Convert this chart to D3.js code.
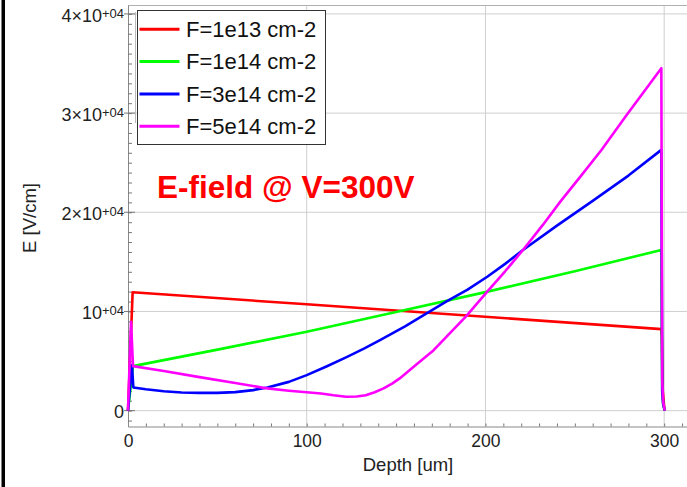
<!DOCTYPE html>
<html lang="en">
  <head>
    <meta charset="UTF-8" />
    <title>E-field @ V=300V</title>
    <style>
      body { margin: 0; background: #fff; }
      svg { font-family: "Liberation Sans", Arial, sans-serif; }
    </style>
  </head>
  <body>
    <div id="wrapper"></div>
    <script src="https://d3js.org/d3.v7.min.js"></script>
    <script>
      // [depth um, E V/cm]
      const f1e13 = [[0, 0], [2.6, 11930], [100, 10720], [298.4, 8220], [298.7, 7300], [299.2, 2000], [300.2, 0]];
      const f1e14 = [[0, 0], [2.8, 4490], [51.5, 6200], [100, 7950], [150, 9950], [200, 11950], [250, 14050],
        [298.4, 16200], [298.9, 2000], [299.4, 700], [300.3, 0]];
      const f3e14 = [[0, 0], [2.2, 4600], [3, 2340], [10, 2150], [20, 1950], [30, 1830], [40, 1790], [50, 1790],
        [60, 1870], [70, 2070], [78, 2340], [90, 2900], [100, 3580], [111, 4450], [122, 5370], [132, 6250],
        [141, 7110], [155, 8500], [168, 9900], [178, 10980], [190, 12200], [201, 13500], [211, 14800],
        [221, 16200], [240, 18650], [260, 21150], [280, 23700], [298.4, 26290], [298.9, 2000], [299.4, 700], [300.3, 0]];
      const f5e14 = [[0, 0], [1.7, 8960], [2.8, 4490], [20, 3990], [40, 3380], [60, 2780], [78, 2240], [90, 2010],
        [100, 1850], [108, 1735], [115, 1550], [122, 1400], [128, 1420], [133, 1560], [138, 1850], [143, 2240],
        [148, 2750], [152, 3250], [160, 4450], [171, 6100], [180, 7800], [189, 9470], [201, 12000], [211, 14050],
        [221, 16200], [232, 18700], [242, 21100], [254, 23800], [265, 26300], [279, 29800], [298.4, 34530],
        [298.9, 3000], [299.4, 900], [300.3, 0]];

      const seriesNames = ["F=1e13 cm-2", "F=1e14 cm-2", "F=3e14 cm-2", "F=5e14 cm-2"];
      const seriesData = [f1e13, f1e14, f3e14, f5e14];
      const seriesColors = ["#ff0000", "#00ff00", "#0000ff", "#ff00ff"];

      const xMajor = [0, 100, 200, 300];
      const yMajor = [0, 10000, 20000, 30000, 40000];
      const yLabels = ["0", "10", "2\u00d710", "3\u00d710", "4\u00d710"];

      const width = 687, height = 487;
      const pLeft = 128, pTop = 5, pRight = 691, pBottom = 426.5;

      const svg = d3.select("#wrapper")
        .append("svg")
          .attr("width", width)
          .attr("height", height);

      const x = d3.scaleLinear().domain([0, 315]).range([pLeft, pRight]);
      const y = d3.scaleLinear().domain([-1600, 40900]).range([pBottom, pTop]);

      // black border at the far left
      svg.append("rect").attr("x", 1.5).attr("y", 0).attr("width", 3.5).attr("height", height).attr("fill", "#000");

      // grid
      svg.append("g").selectAll("line").data(xMajor.slice(1)).join("line")
        .attr("x1", d => x(d)).attr("x2", d => x(d)).attr("y1", pTop).attr("y2", pBottom)
        .attr("stroke", "#cfcfcf").attr("stroke-width", 1);
      svg.append("g").selectAll("line").data(yMajor).join("line")
        .attr("x1", pLeft).attr("x2", pRight).attr("y1", d => y(d)).attr("y2", d => y(d))
        .attr("stroke", "#cfcfcf").attr("stroke-width", 1);
      svg.append("line").attr("x1", pLeft).attr("x2", pRight).attr("y1", pTop + 0.5).attr("y2", pTop + 0.5)
        .attr("stroke", "#b0b0b0");

      // x axis: line, minor ticks pointing in, labels
      const xMinor = d3.axisTop(x).tickValues(d3.range(0, 311, 10)).tickSize(3).tickFormat("").tickSizeOuter(0);
      svg.append("g").attr("transform", `translate(0,${pBottom})`).call(xMinor)
        .call(g => g.select(".domain").attr("stroke", "#888"))
        .call(g => g.selectAll("line").attr("stroke", "#777"));
      const xAxis = d3.axisBottom(x).tickValues(xMajor).tickSize(0).tickPadding(8);
      svg.append("g").attr("transform", `translate(0,${pBottom})`).call(xAxis)
        .call(g => g.select(".domain").remove())
        .call(g => g.selectAll("text").attr("font-size", 17.5).attr("fill", "#222").attr("font-family", null));

      // y axis
      const yMinor = d3.axisRight(y).tickValues(d3.range(-1000, 40001, 1000)).tickSize(4).tickFormat("").tickSizeOuter(0);
      svg.append("g").attr("transform", `translate(${pLeft},0)`).call(yMinor)
        .call(g => g.select(".domain").attr("stroke", "#888"))
        .call(g => g.selectAll("line").attr("stroke", "#777"));
      svg.append("g").selectAll("line").data(yMajor).join("line")
        .attr("x1", pLeft - 4).attr("x2", pLeft + 7).attr("y1", d => y(d)).attr("y2", d => y(d))
        .attr("stroke", "#777");
      const yAxis = d3.axisLeft(y).tickValues(yMajor).tickSize(0).tickPadding(4);
      svg.append("g").attr("transform", `translate(${pLeft},0)`).call(yAxis)
        .call(g => g.select(".domain").remove())
        .call(g => g.selectAll("text")
          .attr("font-family", null).attr("fill", "#222").attr("font-size", 18)
          .attr("dy", "0.4em")
          .each(function (d, i) {
            const t = d3.select(this).text(null);
            t.append("tspan").text(yLabels[i]);
            if (d !== 0) t.append("tspan").attr("font-size", 13).attr("dy", "-0.3em").text("+04");
          }));

      // curves
      const line = d3.line().x(d => x(d[0])).y(d => y(d[1]));
      svg.append("g").selectAll("path").data(seriesData).join("path")
        .attr("fill", "none")
        .attr("stroke", (d, i) => seriesColors[i])
        .attr("stroke-width", 2.6)
        .attr("stroke-linejoin", "round")
        .attr("d", line);

      // axis titles
      svg.append("text").attr("x", 408).attr("y", 471).attr("text-anchor", "middle")
        .attr("font-size", 18.5).attr("fill", "#222").text("Depth [um]");
      svg.append("text").attr("transform", "translate(36,218) rotate(-90)").attr("text-anchor", "middle")
        .attr("font-size", 18.5).attr("fill", "#222").text("E [V/cm]");

      // annotation
      svg.append("text").attr("x", 157).attr("y", 198).attr("font-size", 31.5).attr("font-weight", "bold")
        .attr("fill", "#ff0000").text("E-field @ V=300V");

      // legend
      const legend = svg.append("g");
      legend.append("line").attr("x1", 135.5).attr("x2", 135.5).attr("y1", 12).attr("y2", 123).attr("stroke", "#bbb");
      legend.append("rect").attr("x", 137.5).attr("y", 10.5).attr("width", 188).attr("height", 134)
        .attr("fill", "#fff").attr("stroke", "#333");
      const rows = legend.selectAll("g.row").data(seriesNames).join("g")
        .attr("class", "row")
        .attr("transform", (d, i) => `translate(0,${29.3 + i * 32.3})`);
      rows.append("line").attr("x1", 139.5).attr("x2", 179.5)
        .attr("stroke", (d, i) => seriesColors[i]).attr("stroke-width", 3);
      rows.append("text").attr("x", 186).attr("y", 7.6).attr("font-size", 22).attr("fill", "#111").text(d => d);
    </script>
  </body>
</html>
